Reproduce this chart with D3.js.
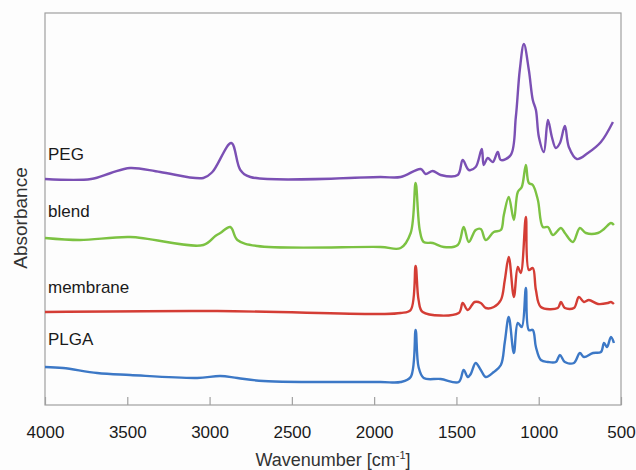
<!DOCTYPE html>
<html>
<head>
<meta charset="utf-8">
<script src="https://cdn.jsdelivr.net/npm/d3@7"></script>
<style>
  body { margin: 0; background: #fdfdfd; }
  text { font-family: "Liberation Sans", Arial, sans-serif; }
</style>
</head>
<body>
<div id="chart"></div>
<script>
// wavenumber [cm-1], absorbance (a.u., spectra stacked with offsets)
const peg = [
  [4000, 226], [3720, 226], [3600, 232], [3483, 237], [3300, 233], [3038, 227], [2983, 233], [2868, 262],
  [2813, 235], [2752, 228], [1961, 228], [1839, 228], [1717, 236], [1687, 231],
  [1644, 234], [1596, 230], [1492, 230], [1462, 245], [1425, 235], [1383, 238],
  [1346, 256], [1334, 240], [1310, 247], [1279, 243], [1249, 253], [1230, 245],
  [1170, 250], [1139, 288], [1115, 335], [1090, 361], [1060, 335], [1036, 305],
  [1017, 295], [999, 268], [969, 253], [944, 285], [920, 268], [896, 257],
  [871, 262], [841, 279], [817, 258], [768, 246], [701, 252], [622, 263], [549, 283]
];
const blend = [
  [4000, 167], [3787, 165], [3483, 168], [3038, 160], [2965, 169], [2935, 172],
  [2874, 178], [2831, 165], [2710, 159], [1961, 158], [1839, 157], [1778, 172],
  [1748, 222], [1723, 175], [1699, 163], [1644, 162], [1577, 158], [1492, 160],
  [1456, 178], [1425, 163], [1383, 175], [1352, 176], [1322, 165], [1273, 173],
  [1230, 175], [1212, 190], [1182, 208], [1151, 185], [1127, 213], [1103, 218],
  [1078, 240], [1060, 222], [1036, 220], [1005, 205], [975, 178], [944, 178],
  [914, 170], [865, 177], [841, 172], [792, 163], [750, 177], [713, 172],
  [640, 172], [603, 176], [561, 182], [543, 180]
];
const membrane = [
  [4000, 93], [2953, 94], [1961, 91], [1839, 92], [1778, 95], [1748, 139],
  [1730, 105], [1705, 93], [1486, 92], [1462, 102], [1431, 95], [1389, 103],
  [1352, 102], [1322, 97], [1273, 98], [1230, 105], [1206, 125], [1182, 148],
  [1151, 108], [1127, 138], [1109, 132], [1078, 188], [1060, 135], [1036, 137],
  [1017, 115], [987, 98], [884, 97], [865, 103], [841, 97], [786, 97],
  [756, 108], [725, 103], [695, 105], [640, 101], [579, 102], [561, 103], [543, 101]
];
const plga = [
  [4000, 38], [3890, 37], [3683, 32], [3483, 30], [3075, 27], [2935, 29],
  [2831, 27], [2673, 24], [1961, 23], [1839, 23], [1778, 28], [1748, 75],
  [1730, 38], [1699, 27], [1596, 26], [1486, 23], [1456, 35], [1431, 28],
  [1413, 31], [1383, 42], [1352, 35], [1322, 28], [1273, 33], [1230, 40],
  [1206, 63], [1182, 88], [1151, 52], [1127, 82], [1103, 78], [1078, 117],
  [1060, 75], [1036, 75], [1017, 58], [987, 45], [944, 43], [896, 43],
  [871, 50], [841, 43], [786, 42], [750, 52], [725, 48], [670, 52],
  [622, 53], [603, 62], [585, 58], [561, 68], [543, 62]
];

const seriesNames = ["PEG", "blend", "membrane", "PLGA"];
const seriesColors = ["#7b50b4", "#7cc242", "#d43d35", "#3c78c6"];
const seriesData = [peg, blend, membrane, plga];
const labelLevel = [245, 188, 112, 60]; // label baseline, a.u.
const xTicks = [4000, 3500, 3000, 2500, 2000, 1500, 1000, 500];

const W = 636, H = 470;
const margin = { top: 13, right: 15, bottom: 65, left: 45 };
const width = W - margin.left - margin.right;
const height = H - margin.top - margin.bottom;

const svg = d3.select("#chart")
  .append("svg")
  .attr("width", W)
  .attr("height", H);

const g = svg.append("g")
  .attr("transform", `translate(${margin.left},${margin.top})`);

const xScale = d3.scaleLinear().domain([4000, 500]).range([0, width]);
const yScale = d3.scaleLinear().domain([0, 392]).range([height, 0]);

// frame
g.append("rect")
  .attr("width", width)
  .attr("height", height)
  .attr("fill", "none")
  .attr("stroke", "#a0a0a0")
  .attr("stroke-width", 1.2);

const xAxis = g.append("g")
  .attr("transform", `translate(0,${height})`)
  .call(d3.axisBottom(xScale).tickValues(xTicks).tickFormat(d3.format("d"))
    .tickSizeInner(-8).tickSizeOuter(0).tickPadding(21));

xAxis.select(".domain").remove();
xAxis.selectAll("line").attr("stroke", "#a0a0a0").attr("stroke-width", 1.2);
xAxis.selectAll("text")
  .attr("fill", "#1a1a1a")
  .style("font-size", "17px")
  .style("font-family", "'Liberation Sans', Arial, sans-serif");

const line = d3.line()
  .x((d) => xScale(d[0]))
  .y((d) => yScale(d[1]))
  .curve(d3.curveCatmullRom.alpha(0.5));

seriesData.forEach((data, i) => {
  g.append("path")
    .datum(data)
    .attr("fill", "none")
    .attr("stroke", seriesColors[i])
    .attr("stroke-width", 2.4)
    .attr("stroke-linejoin", "round")
    .attr("d", line);

  g.append("text")
    .attr("x", 3)
    .attr("y", yScale(labelLevel[i]))
    .attr("fill", "#1a1a1a")
    .style("font-size", "17px")
    .text(seriesNames[i]);
});

// axis titles
const xTitle = svg.append("text")
  .attr("x", margin.left + width / 2)
  .attr("y", 466)
  .attr("text-anchor", "middle")
  .attr("fill", "#333")
  .style("font-size", "18px");
xTitle.append("tspan").text("Wavenumber [cm");
xTitle.append("tspan").attr("dy", -7).style("font-size", "11px").text("-1");
xTitle.append("tspan").attr("dy", 7).text("]");

svg.append("text")
  .attr("transform", `translate(27,${margin.top + 205}) rotate(-90)`)
  .attr("text-anchor", "middle")
  .attr("fill", "#333")
  .style("font-size", "19px")
  .text("Absorbance");
</script>
</body>
</html>
